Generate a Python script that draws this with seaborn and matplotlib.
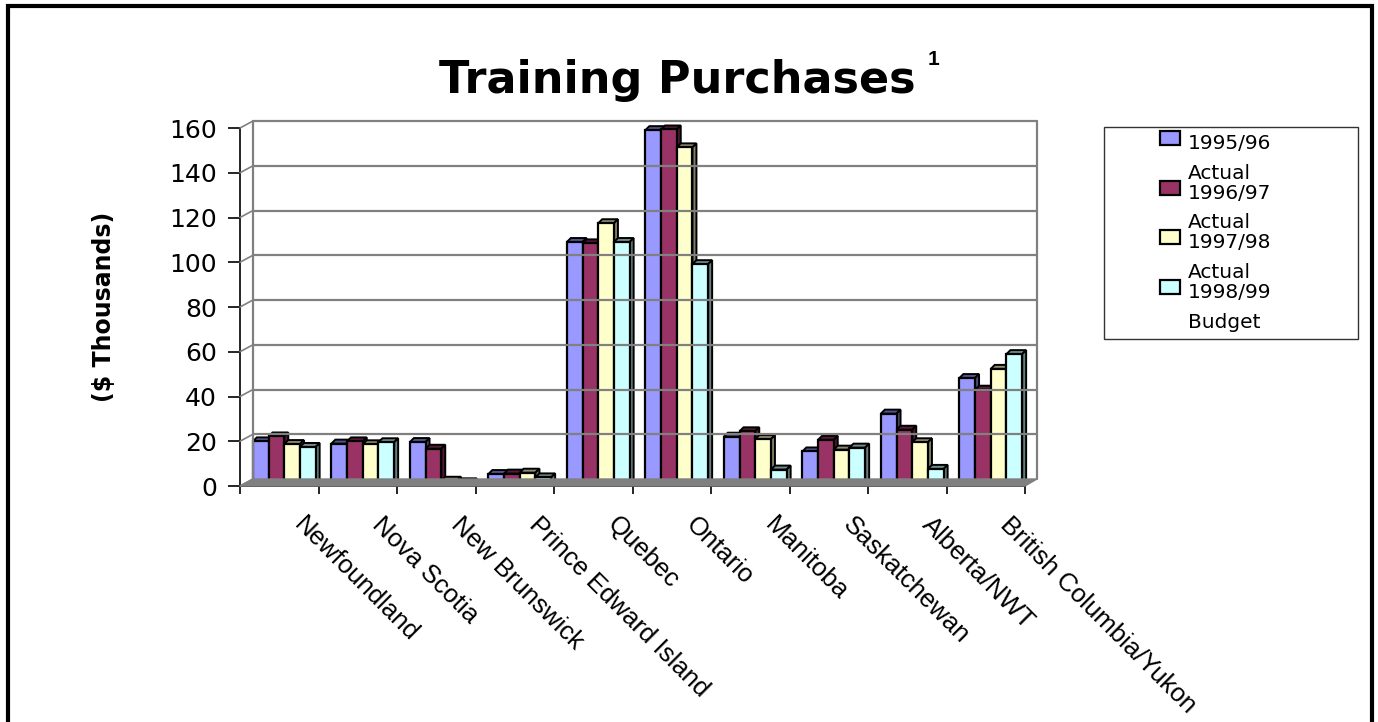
import numpy as np
import pandas as pd
import matplotlib
matplotlib.use("Agg")
import matplotlib.pyplot as plt
import matplotlib.patches as mpatches
from matplotlib.lines import Line2D
from matplotlib.transforms import ScaledTranslation, IdentityTransform
from matplotlib.legend_handler import HandlerPatch
import seaborn as sns

# ---------------- data ----------------
regions = ["Newfoundland", "Nova Scotia", "New Brunswick", "Prince Edward Island",
           "Quebec", "Ontario", "Manitoba", "Saskatchewan", "Alberta/NWT",
           "British Columbia/Yukon"]
series = ["1995/96\nActual", "1996/97\nActual", "1997/98\nActual", "1998/99\nBudget"]
v_1995_96 = [18.6, 17.6, 18.3, 4.0, 107.7, 157.7, 20.7, 14.1, 31.0, 46.9]
v_1996_97 = [20.8, 18.6, 15.3, 4.2, 107.1, 158.0, 23.1, 19.3, 23.8, 41.7]
v_1997_98 = [17.4, 17.3, 1.0, 4.6, 116.1, 150.0, 19.6, 14.9, 18.2, 51.0]
v_1998_99 = [16.1, 18.2, 0.3, 2.5, 107.7, 97.8, 6.0, 15.8, 6.3, 57.6]
yticks = [0, 20, 40, 60, 80, 100, 120, 140, 160]
colors = ["#9999FF", "#993366", "#FFFFCC", "#CCFFFF"]

df = pd.DataFrame({
    "region": regions * 4,
    "series": [s for s in series for _ in regions],
    "value": v_1995_96 + v_1996_97 + v_1997_98 + v_1998_99,
})

# ---------------- style ----------------
sns.set_theme(style="white")
plt.rcParams["font.family"] = ["Liberation Sans", "DejaVu Sans"]
for k in ["text.color", "axes.labelcolor", "xtick.color", "ytick.color"]:
    plt.rcParams[k] = "black"
WIDE = ["DejaVu Sans"]   # wide face to mimic the letter-spaced texts

W, H, DPI = 1378, 722, 100
fig = plt.figure(figsize=(W / DPI, H / DPI), dpi=DPI)
fig.patch.set_facecolor("white")

# front plane of the axes (pixels, image coords)
X0, X1, YT, YB = 240, 1025, 128, 486
ax = fig.add_axes([X0 / W, (H - YB) / H, (X1 - X0) / W, (YB - YT) / H])
ax.set_facecolor("none")

sns.barplot(data=df, x="region", y="value", hue="series", order=regions,
            hue_order=series, palette=colors, saturation=1, width=0.8,
            edgecolor="black", linewidth=1.6, errorbar=None, legend=False,
            ax=ax, zorder=3)

ax.set_xlim(-0.5, len(regions) - 0.5)
ax.set_ylim(0, 160)
ax.set_yticks(yticks)
ax.set_xticks(np.arange(len(regions)) + 0.34, labels=regions)
ax.set_xlabel("")
ax.set_ylabel("")

for s in ["top", "right"]:
    ax.spines[s].set_visible(False)
for s in ["left", "bottom"]:
    ax.spines[s].set_color("black")
    ax.spines[s].set_linewidth(1.2)
    ax.spines[s].set_zorder(4)

ax.tick_params(axis="y", direction="out", length=8.6, width=1.2, color="black",
               labelsize=18, pad=8, left=True, labelcolor="black")
for lbl in ax.get_yticklabels():
    lbl.set_fontfamily(WIDE)
ax.set_xticks(np.arange(-0.5, len(regions), 1.0), minor=True)
ax.tick_params(axis="x", which="major", length=0, labelsize=18.5, pad=19,
               labelcolor="black")
ax.tick_params(axis="x", which="minor", direction="out", length=6, width=1.2,
               color="black", bottom=True)
plt.setp(ax.get_xticklabels(), rotation=-45, ha="left", rotation_mode="anchor")

# ---------------- pseudo-3D back wall / floor ----------------
DX, DY = 13, 7          # depth of the wall (pixels)
grid_c = "#808080"
pxT = ax.transData


def disp(x, y):
    return pxT.transform((x, y))


xl, _ = disp(-0.5, 0)
xr, _ = disp(len(regions) - 0.5, 0)
_, y0 = disp(0, 0)
_, ytop = disp(0, 160)

for v in yticks[1:]:
    _, yv = disp(0, v)
    fig.add_artist(Line2D([xl + DX, xr + DX - 1], [yv + DY, yv + DY],
                          transform=IdentityTransform(), color=grid_c, lw=1.6, zorder=1))
    fig.add_artist(Line2D([xl, xl + DX], [yv, yv + DY],
                          transform=IdentityTransform(), color=grid_c, lw=1.2, zorder=1))
for xx in (xl + DX, xr + DX - 1):
    fig.add_artist(Line2D([xx, xx], [y0 + DY, ytop + DY],
                          transform=IdentityTransform(), color=grid_c, lw=1.6, zorder=1))
floor = mpatches.Polygon([(xl, y0), (xr, y0), (xr + DX - 1, y0 + DY), (xl + DX, y0 + DY)],
                         closed=True, transform=IdentityTransform(),
                         facecolor=grid_c, edgecolor=grid_c, lw=1, zorder=1)
fig.add_artist(floor)
fig.add_artist(Line2D([xl, xl + DX], [y0, y0 + DY], transform=IdentityTransform(),
                      color=grid_c, lw=1.2, zorder=1))

# ---------------- 3-D bars (depth faces) ----------------
SX, SY = 5, 3   # bar offset from the front plane
d = 4           # bar depth (pixels)
shift = ScaledTranslation(SX / DPI, SY / DPI, fig.dpi_scale_trans)


def darker(c, f):
    r, g, b = matplotlib.colors.to_rgb(c)
    return (r * f, g * f, b * f)


for ci, cont in enumerate(ax.containers):
    base = colors[ci]
    for p in cont:
        p.set_transform(ax.transData + shift)
        p.set_clip_on(False)
        x0b = p.get_x()
        x1b = x0b + p.get_width()
        hb = p.get_height()
        (ax0, ay0) = disp(x0b, 0)
        (ax1, ay1) = disp(x1b, hb)
        ax0 += SX; ax1 += SX; ay0 += SY; ay1 += SY
        top = mpatches.Polygon([(ax0, ay1), (ax1, ay1), (ax1 + d, ay1 + d), (ax0 + d, ay1 + d)],
                               closed=True, transform=IdentityTransform(),
                               facecolor=darker(base, 0.55), edgecolor="black", lw=1.4,
                               zorder=2.5)
        side = mpatches.Polygon([(ax1, ay0), (ax1 + d, ay0 + d), (ax1 + d, ay1 + d), (ax1, ay1)],
                                closed=True, transform=IdentityTransform(),
                                facecolor=darker(base, 0.5), edgecolor="black", lw=1.4,
                                zorder=2.5)
        for poly in (top, side):
            poly.set_clip_on(False)
            ax.add_artist(poly)

# ---------------- texts ----------------
title = fig.text(677 / W, (H - 93) / H, "Training Purchases", ha="center",
                 va="baseline", fontsize=32, fontweight="bold", color="black",
                 family=WIDE)
fig.add_artist(matplotlib.text.Annotation(
    "1", xy=(1, 1), xycoords=title, xytext=(12, 9), textcoords="offset pixels",
    ha="left", va="top", fontsize=15, fontweight="bold", color="black",
    family=["Liberation Sans"]))
fig.text(104 / W, (H - 307) / H, "($ Thousands)", rotation=90, ha="center",
         va="center", fontsize=17, fontweight="bold", color="black", family=WIDE)

# ---------------- legend ----------------
LFS = 14.5
RECT_Y = 15.0


def rect_func(legend, orig_handle, xdescent, ydescent, width, height, fontsize):
    w, h = 14.4, 10.0
    return mpatches.Rectangle((width - w - xdescent, -ydescent + RECT_Y), w, h)


handles = [mpatches.Patch(facecolor=c, edgecolor="black", lw=1.6, label=s)
           for c, s in zip(colors, series)]
lx0, lx1, ly0, ly1 = 1104, 1358, 127, 332
leg = fig.legend(handles=handles, loc="upper left",
                 bbox_to_anchor=((lx0) / W, (H - ly1) / H, (lx1 - lx0) / W, (ly1 - ly0) / H),
                 bbox_transform=fig.transFigure, mode="expand", borderaxespad=0,
                 prop={"family": WIDE, "size": LFS}, frameon=True, fancybox=False,
                 shadow=False, handlelength=3.4, handleheight=0.7, handletextpad=0.4,
                 labelspacing=0.04, borderpad=0.35,
                 handler_map={mpatches.Patch: HandlerPatch(patch_func=rect_func)})
leg.get_frame().set_edgecolor("black")
leg.get_frame().set_linewidth(1.0)
for t in leg.get_texts():
    t.set_linespacing(1.72)
    t.set_color("black")

# ---------------- outer frame ----------------
fig.add_artist(mpatches.Rectangle((8 / W, -0.05), (1372 - 8) / W, 1.05 - 6 / H,
                                  transform=fig.transFigure, fill=False,
                                  edgecolor="black", lw=3, zorder=10))

fig.savefig("out.png", dpi=DPI, facecolor="white")
